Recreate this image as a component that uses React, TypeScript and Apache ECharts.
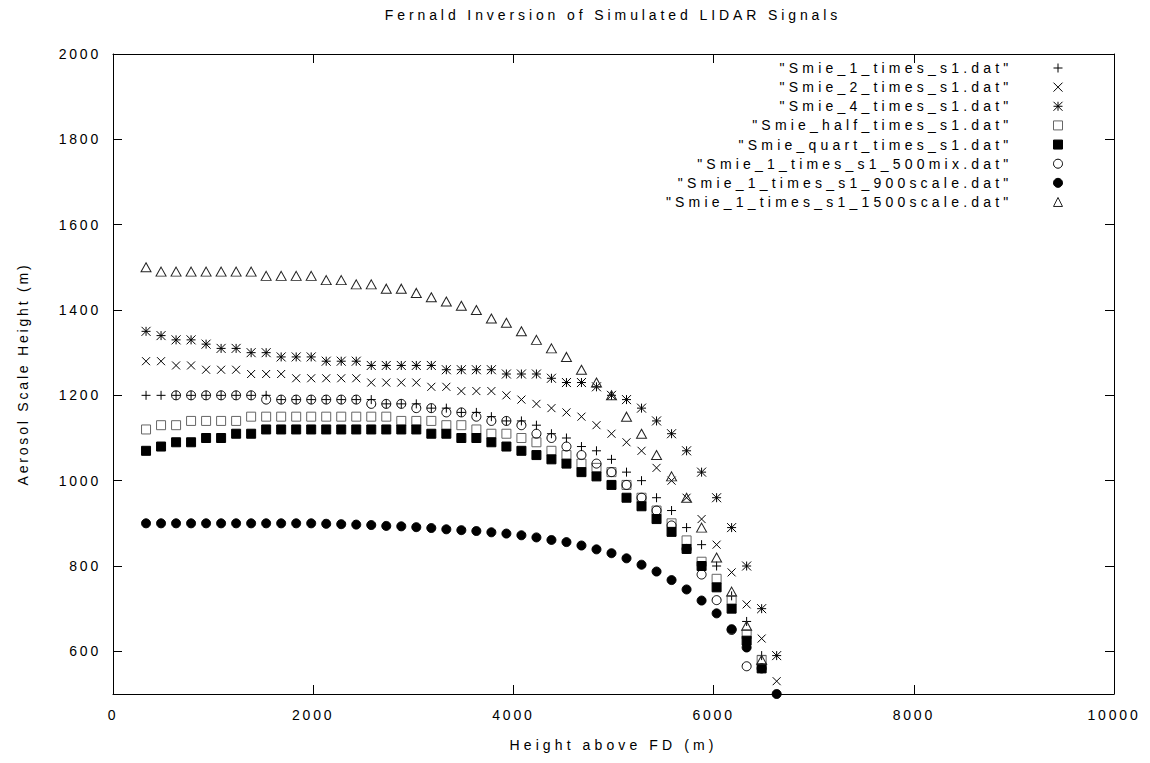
import React, { useEffect, useRef } from "react";
import * as echarts from "echarts";

// Range bins: height above FD (m)
const heights = [
  330, 480, 630, 780, 930, 1080, 1230, 1380, 1530, 1680, 1830, 1980, 2130, 2280,
  2430, 2580, 2730, 2880, 3030, 3180, 3330, 3480, 3630, 3780, 3930, 4080, 4230,
  4380, 4530, 4680, 4830, 4980, 5130, 5280, 5430, 5580, 5730, 5880, 6030, 6180,
  6330, 6480, 6630,
];

const smie1Times = [
  1200, 1200, 1200, 1200, 1200, 1200, 1200, 1200, 1200, 1190, 1190, 1190, 1190,
  1190, 1190, 1190, 1180, 1180, 1180, 1170, 1170, 1160, 1160, 1150, 1140, 1140,
  1130, 1110, 1100, 1080, 1070, 1050, 1020, 1000, 960, 930, 890, 850, 800, 730,
  670, 590, null,
];
const smie2Times = [
  1280, 1280, 1270, 1270, 1260, 1260, 1260, 1250, 1250, 1250, 1240, 1240, 1240,
  1240, 1240, 1230, 1230, 1230, 1230, 1220, 1220, 1210, 1210, 1210, 1200, 1190,
  1180, 1170, 1160, 1150, 1130, 1110, 1090, 1070, 1030, 1000, 960, 910, 850, 785,
  710, 630, 530,
];
const smie4Times = [
  1350, 1340, 1330, 1330, 1320, 1310, 1310, 1300, 1300, 1290, 1290, 1290, 1280,
  1280, 1280, 1270, 1270, 1270, 1270, 1270, 1260, 1260, 1260, 1260, 1250, 1250,
  1250, 1240, 1230, 1230, 1220, 1200, 1190, 1170, 1140, 1110, 1070, 1020, 960,
  890, 800, 700, 590,
];
const smieHalf = [
  1120, 1130, 1130, 1140, 1140, 1140, 1140, 1150, 1150, 1150, 1150, 1150, 1150,
  1150, 1150, 1150, 1150, 1140, 1140, 1140, 1130, 1130, 1120, 1110, 1110, 1100,
  1090, 1070, 1060, 1040, 1030, 1020, 990, 960, 930, 900, 860, 810, 770, 720, 640,
  580, null,
];
const smieQuart = [
  1070, 1080, 1090, 1090, 1100, 1100, 1110, 1110, 1120, 1120, 1120, 1120, 1120,
  1120, 1120, 1120, 1120, 1120, 1120, 1110, 1110, 1100, 1100, 1090, 1080, 1070,
  1060, 1050, 1040, 1020, 1010, 990, 960, 940, 910, 880, 840, 800, 750, 700, 625,
  560, null,
];
const smie500Mix = [
  null, null, 1200, 1200, 1200, 1200, 1200, 1200, 1190, 1190, 1190, 1190, 1190,
  1190, 1190, 1180, 1180, 1180, 1170, 1170, 1160, 1160, 1150, 1140, 1140, 1130,
  1110, 1100, 1080, 1060, 1040, 1020, 990, 960, 930, 895, 840, 780, 720, 650, 565,
  null, null,
];
const smie900Scale = [
  900, 900, 900, 900, 900, 900, 900, 900, 900, 900, 900, 900, 899, 898, 897, 896,
  894, 893, 891, 889, 886, 884, 882, 879, 876, 872, 867, 861, 856, 848, 839, 830,
  818, 803, 787, 767, 745, 719, 689, 652, 609, 560, 500,
];
const smie1500Scale = [
  1500, 1490, 1490, 1490, 1490, 1490, 1490, 1490, 1480, 1480, 1480, 1480, 1470,
  1470, 1460, 1460, 1450, 1450, 1440, 1430, 1420, 1410, 1400, 1380, 1370, 1350,
  1330, 1310, 1290, 1260, 1230, 1200, 1150, 1110, 1060, 1010, 960, 890, 820, 740,
  660, 580, null,
];

const seriesNames = [
  '"Smie_1_times_s1.dat"',
  '"Smie_2_times_s1.dat"',
  '"Smie_4_times_s1.dat"',
  '"Smie_half_times_s1.dat"',
  '"Smie_quart_times_s1.dat"',
  '"Smie_1_times_s1_500mix.dat"',
  '"Smie_1_times_s1_900scale.dat"',
  '"Smie_1_times_s1_1500scale.dat"',
];
const seriesValues = [
  smie1Times,
  smie2Times,
  smie4Times,
  smieHalf,
  smieQuart,
  smie500Mix,
  smie900Scale,
  smie1500Scale,
];

const xTicks = { min: 0, max: 10000, interval: 2000 };
const yRange = { min: 500, max: 2000 };

const FONT = "'Liberation Sans', Arial, Helvetica, sans-serif";
// slightly different sizes act as CSS hooks for letter spacing
const SIZE_AXIS = 14;
const SIZE_TITLE = 14.01;
const SIZE_LEGEND = 14.02;
const SIZE_XNAME = 14.03;

const PLUS = "path://M0,5L10,5M5,0L5,10";
const CROSS = "path://M0,0L10,10M10,0L0,10";
const STAR = "path://M0,5L10,5M5,0L5,10M0,0L10,10M10,0L0,10";

const markerStyles: any[] = [
  { symbol: PLUS, symbolSize: 9, fill: "#000", stroke: "#000" },
  { symbol: CROSS, symbolSize: 8, fill: "#000", stroke: "#000" },
  { symbol: STAR, symbolSize: 9, fill: "#000", stroke: "#000" },
  { symbol: "rect", symbolSize: 9, fill: "rgba(255,255,255,0)", stroke: "#666" },
  { symbol: "rect", symbolSize: 9, fill: "#000", stroke: "#000" },
  { symbol: "circle", symbolSize: 9, fill: "rgba(255,255,255,0)", stroke: "#000" },
  { symbol: "circle", symbolSize: 9, fill: "#000", stroke: "#000" },
  { symbol: "triangle", symbolSize: [10, 9], fill: "rgba(255,255,255,0)", stroke: "#222" },
];

const css = `
.lidar-chart svg text { letter-spacing: 2.8px; }
.lidar-chart svg text[style*="14.01px"], .lidar-chart svg text[font-size*="14.01"] { letter-spacing: 3.9px; }
.lidar-chart svg text[style*="14.02px"], .lidar-chart svg text[font-size*="14.02"] { letter-spacing: 4.2px; }
.lidar-chart svg text[style*="14.03px"], .lidar-chart svg text[font-size*="14.03"] { letter-spacing: 4.1px; }
`;

export default function App() {
  const ref = useRef<HTMLDivElement>(null);

  useEffect(() => {
    if (!ref.current) return;
    const chart = echarts.init(ref.current, null, { renderer: "svg" });

    const series = seriesNames.map((name, k) => {
      const vals = seriesValues[k];
      const data: number[][] = [];
      heights.forEach((h, i) => {
        const v = vals[i];
        if (v !== null && v !== undefined) data.push([h, v]);
      });
      const m = markerStyles[k];
      return {
        type: "scatter",
        name,
        data,
        symbol: m.symbol,
        symbolSize: m.symbolSize,
        clip: false,
        silent: true,
        itemStyle: {
          color: m.fill,
          borderColor: m.stroke,
          borderWidth: 1,
          opacity: 1,
        },
      };
    });

    const axisCommonX = {
      type: "value",
      min: xTicks.min,
      max: xTicks.max,
      interval: xTicks.interval,
      splitLine: { show: false },
      axisLine: { show: true, onZero: false, lineStyle: { color: "#000", width: 1 } },
      axisTick: { show: true, inside: true, length: 9, lineStyle: { color: "#000", width: 1 } },
    };
    const axisCommonY = {
      type: "value",
      min: yRange.min,
      max: yRange.max,
      splitNumber: 7,
      splitLine: { show: false },
      axisLine: { show: true, onZero: false, lineStyle: { color: "#000", width: 1 } },
      axisTick: { show: true, inside: true, length: 9, lineStyle: { color: "#000", width: 1 } },
    };

    const option: any = {
      animation: false,
      backgroundColor: "#ffffff",
      textStyle: { fontFamily: FONT, color: "#000" },
      title: {
        text: "Fernald Inversion of Simulated LIDAR Signals",
        left: 613,
        top: 8,
        textAlign: "center",
        padding: 0,
        textStyle: { fontSize: SIZE_TITLE, fontWeight: "normal", color: "#000", fontFamily: FONT },
      },
      grid: { left: 113, right: 36, top: 54, bottom: 69, containLabel: false },
      legend: {
        orient: "vertical",
        right: 87,
        top: 60,
        align: "right",
        padding: 0,
        itemGap: 3.14,
        itemWidth: 9,
        itemHeight: 9,
        selectedMode: false,
        itemStyle: { borderWidth: 1 },
        textStyle: {
          fontSize: SIZE_LEGEND,
          color: "#000",
          fontFamily: FONT,
          lineHeight: 16,
          padding: [0, 36, 0, 0],
        },
        data: seriesNames,
      },
      xAxis: [
        {
          ...axisCommonX,
          position: "bottom",
          axisLabel: {
            show: true,
            fontSize: SIZE_AXIS,
            color: "#000",
            margin: 14,
            fontFamily: FONT,
            formatter: (v: number) => String(v),
          },
          name: "Height above FD (m)",
          nameLocation: "middle",
          nameGap: 44,
          nameTextStyle: { fontSize: SIZE_XNAME, color: "#000", fontFamily: FONT },
        },
        {
          ...axisCommonX,
          position: "top",
          axisLabel: { show: false },
        },
      ],
      yAxis: [
        {
          ...axisCommonY,
          position: "left",
          axisLabel: {
            show: true,
            showMinLabel: false,
            fontSize: SIZE_AXIS,
            color: "#000",
            margin: 12,
            fontFamily: FONT,
            formatter: (v: number) => (v === yRange.min ? "" : String(v)),
          },
          name: "Aerosol Scale Height (m)",
          nameLocation: "middle",
          nameGap: 83,
          nameRotate: 90,
          nameTextStyle: { fontSize: SIZE_AXIS, color: "#000", fontFamily: FONT },
        },
        {
          ...axisCommonY,
          position: "right",
          axisLabel: { show: false },
        },
      ],
      series,
    };

    chart.setOption(option);
    return () => chart.dispose();
  }, []);

  return (
    <>
      <style>{css}</style>
      <div
        ref={ref}
        className="lidar-chart"
        style={{ position: "absolute", left: 0, top: 0, width: 1150, height: 763 }}
      />
    </>
  );
}
